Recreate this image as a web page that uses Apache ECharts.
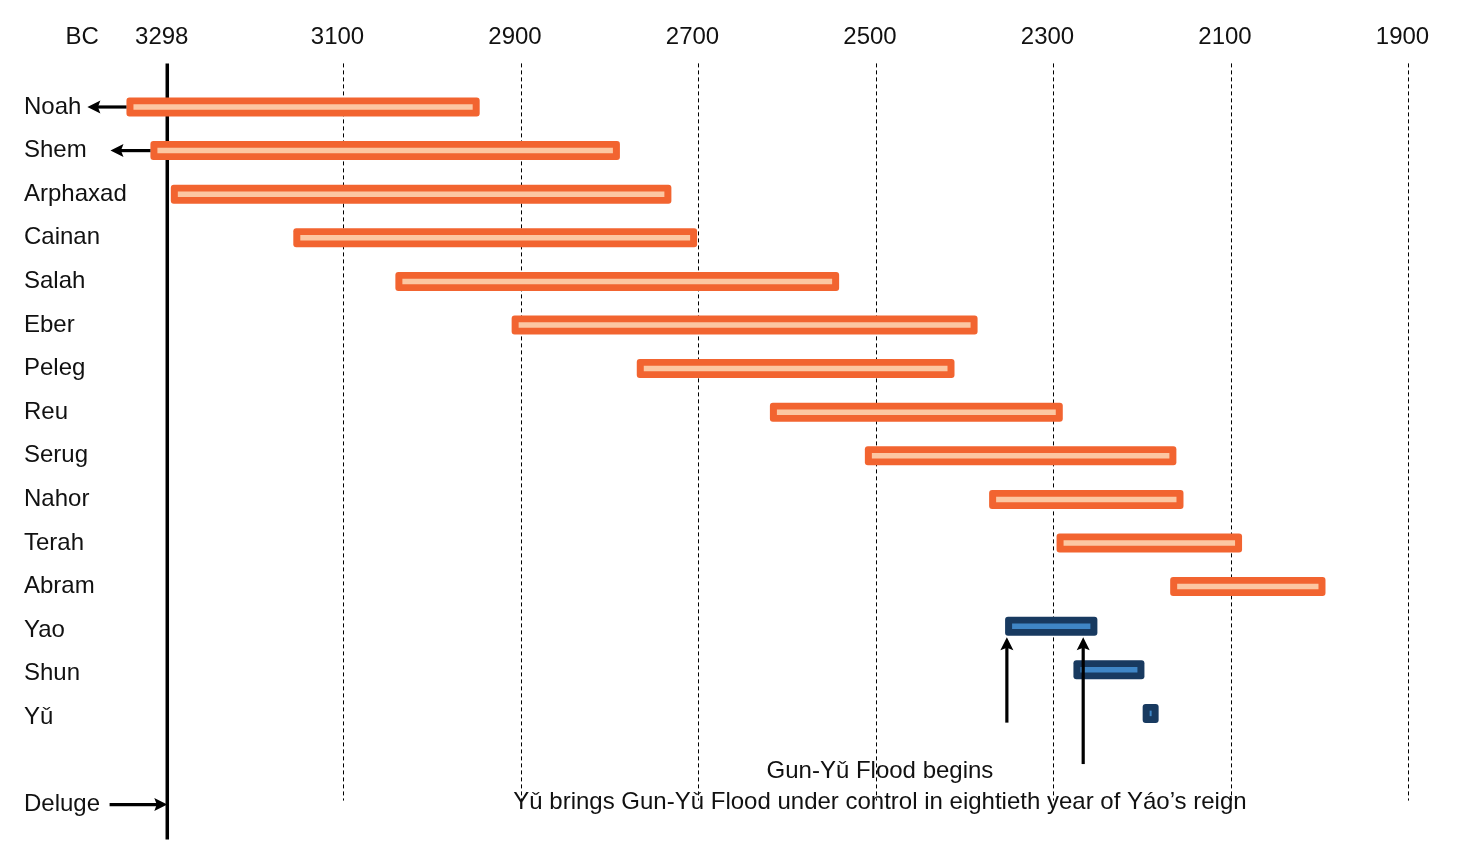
<!DOCTYPE html>
<html><head><meta charset="utf-8">
<script src="https://cdn.jsdelivr.net/npm/echarts@6/dist/echarts.min.js"></script>
<style>html,body{margin:0;padding:0;background:#fff}#chart{width:1466px;height:849px}</style>
</head><body><div id="chart"></div>
<script>
// ---- data ----
const rowNames = ['Noah','Shem','Arphaxad','Cainan','Salah','Eber','Peleg','Reu','Serug','Nahor','Terah','Abram','Yao','Shun','Yǔ','','Deluge'];
const tickYears = [3400, 3298, 3100, 2900, 2700, 2500, 2300, 2100, 1900];
const tickLabels = ['BC','3298','3100','2900','2700','2500','2300','2100','1900'];
const gridYears = [3100, 2900, 2700, 2500, 2300, 2100, 1900];
const delugeYear = 3298;

const patriarchs = ['Noah','Shem','Arphaxad','Cainan','Salah','Eber','Peleg','Reu','Serug','Nahor','Terah','Abram'];
const patriarchStart = [3344, 3317, 3294, 3156, 3041, 2910, 2769, 2619, 2512, 2372, 2296, 2168];
const patriarchEnd   = [2946, 2788, 2730, 2701, 2541, 2385, 2411, 2289, 2161, 2153, 2087, 1993];

const rulers = ['Yao','Shun','Yǔ'];
const rulerStart = [2354, 2277, 2199];
const rulerEnd   = [2250, 2197, 2181];

// arrows: [fromYear, fromRow, toYear, toRow]
const arrows = [
  [3344, 0, 3388, 0],
  [3317, 1, 3362, 1],
  [3363, 16, 3298, 16],
  [2352, 14.12, 2352, 12.16],
  [2266, 15.07, 2266, 12.16]
];
// annotations: [year, row, text]
const notes = [
  [2495, 15.23, 'Gun-Yǔ Flood begins'],
  [2495, 15.96, 'Yǔ brings Gun-Yǔ Flood under control in eightieth year of Yáo’s reign']
];

// ---- build ----
const FONT = '"Liberation Sans", Arial, sans-serif';
const FS = 24;
const rowOf = n => rowNames.indexOf(n);
const patriarchData = patriarchs.map((n,i)=>[patriarchStart[i], patriarchEnd[i], rowOf(n)]);
const rulerData = rulers.map((n,i)=>[rulerStart[i], rulerEnd[i], rowOf(n)]);

function barRenderer(outer, inner, dy){
  return function(params, api){
    const s = api.coord([api.value(0), api.value(2)]);
    const e = api.coord([api.value(1), api.value(2)]);
    const x0 = Math.min(s[0], e[0]), w = Math.abs(e[0]-s[0]);
    const yc = s[1] + dy, h = 19, b = 7;
    return {type:'group', children:[
      {type:'rect', shape:{x:x0, y:yc-h/2, width:w, height:h, r:3}, style:{fill:outer}},
      {type:'rect', shape:{x:x0+b, y:yc-2.75, width:Math.max(w-2*b,1), height:5.5}, style:{fill:inner}}
    ]};
  };
}

const option = {
  animation:false,
  backgroundColor:'#fff',
  grid:{left:76.75, right:13.6, top:63.4, bottom:44.4, containLabel:false},
  xAxis:{
    type:'value', inverse:true, min:1850, max:3400, position:'top',
    axisLine:{show:false}, axisTick:{show:false, customValues:tickYears},
    splitLine:{show:false},
    axisLabel:{
      show:true, customValues:tickYears, margin:14, color:'#111', fontSize:FS, fontFamily:FONT,
      padding:[0,11,0,0], showMinLabel:true, showMaxLabel:true,
      formatter:v=>{const i=tickYears.indexOf(v); if(i===0) return '{bc|'+tickLabels[0]+'}'; return i>=0?tickLabels[i]:'';},
      rich:{bc:{fontSize:FS, fontFamily:FONT, color:'#111', padding:[0,0,0,22]}}
    }
  },
  yAxis:{
    type:'value', inverse:true, min:-1, max:16, interval:1,
    axisLine:{show:false}, axisTick:{show:false}, splitLine:{show:false},
    axisLabel:{
      align:'left', margin:52.75, color:'#111', fontSize:FS, fontFamily:FONT,
      showMinLabel:true, showMaxLabel:true,
      formatter:v=> (v>=0 && rowNames[v]!==undefined) ? rowNames[v] : ''
    }
  },
  series:[
    { // dashed grid lines
      type:'custom', z:1, silent:true, clip:false,
      data:gridYears.map(y=>[y]),
      encode:{x:0},
      renderItem:(params, api)=>{
        const cs = params.coordSys;
        const p = api.coord([api.value(0), 0]);
        return {type:'line', shape:{x1:Math.round(p[0])+0.5, y1:cs.y, x2:Math.round(p[0])+0.5, y2:cs.y+cs.height-4},
          style:{stroke:'#000', lineWidth:1, lineDash:[4,3]}};
      }
    },
    { // deluge line
      type:'custom', z:2, silent:true, clip:false,
      data:[[delugeYear]], encode:{x:0},
      renderItem:(params, api)=>{
        const cs = params.coordSys;
        const p = api.coord([api.value(0), 0]);
        return {type:'line', shape:{x1:p[0], y1:cs.y, x2:p[0], y2:cs.y+cs.height+35},
          style:{stroke:'#000', lineWidth:3.5}};
      }
    },
    {
      name:'Patriarchs', type:'custom', z:3, clip:false,
      data:patriarchData, encode:{x:[0,1], y:2},
      renderItem:barRenderer('#F26430', '#FCC7A2', 0)
    },
    {
      name:'Rulers', type:'custom', z:3, clip:false,
      data:rulerData, encode:{x:[0,1], y:2},
      renderItem:barRenderer('#183A60', '#3F86C6', -4)
    },
    { // arrows
      type:'custom', z:4, silent:true, clip:false,
      data:arrows, encode:{x:[0,2], y:[1,3]},
      renderItem:(params, api)=>{
        const a = api.coord([api.value(0), api.value(1)]);
        const b = api.coord([api.value(2), api.value(3)]);
        const dx=b[0]-a[0], dy=b[1]-a[1], L=Math.hypot(dx,dy), ux=dx/L, uy=dy/L;
        const hl=13, hw=6.5;
        const bx=b[0]-ux*hl, by=b[1]-uy*hl;
        return {type:'group', children:[
          {type:'line', shape:{x1:a[0], y1:a[1], x2:bx+ux*3, y2:by+uy*3}, style:{stroke:'#000', lineWidth:3.2}},
          {type:'polygon', shape:{points:[[b[0],b[1]],[bx-uy*hw, by+ux*hw],[bx+ux*2.5, by+uy*2.5],[bx+uy*hw, by-ux*hw]]}, style:{fill:'#000'}}
        ]};
      }
    },
    { // annotation texts
      type:'custom', z:5, silent:true, clip:false,
      data:notes, encode:{x:0, y:1},
      renderItem:(params, api)=>{
        const p = api.coord([api.value(0), api.value(1)]);
        return {type:'text', x:p[0], y:p[1], style:{text:notes[params.dataIndex][2], fill:'#111',
          font:FS+'px '+FONT, textAlign:'center', textVerticalAlign:'middle'}};
      }
    }
  ]
};
const chart = echarts.init(document.getElementById('chart'));
chart.setOption(option);
</script></body></html>
